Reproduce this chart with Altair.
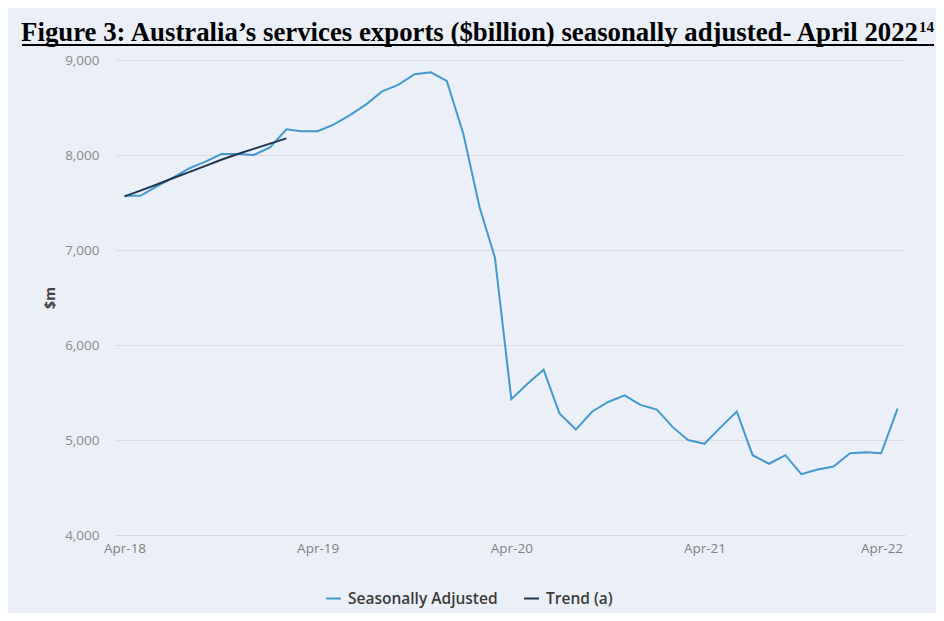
import altair as alt
import pandas as pd

# ---- data ($m) ----
months = [d.strftime("%Y/%m/%d") for d in pd.date_range("2018-04-01", periods=49, freq="MS")]
seasonally_adjusted = [
    7570, 7570, 7670, 7760, 7860, 7930, 8010, 8010, 8000, 8080, 8270, 8250,
    8250, 8320, 8420, 8530, 8670, 8740, 8850, 8870, 8780, 8230, 7450, 6920,
    5430, 5590, 5740, 5280, 5110, 5300, 5400, 5470, 5370, 5320, 5130, 5000,
    4960, 5130, 5300, 4840, 4750, 4840, 4640, 4690, 4720, 4860, 4870, 4860,
    5330,
]
trend = [7565, 7625, 7690, 7755, 7820, 7885, 7950, 8010, 8065, 8120, 8175]
series_names = ["Seasonally Adjusted", "Trend (a)"]
series_colors = ["#4399cf", "#1d3651"]
y_ticks = [4000, 5000, 6000, 7000, 8000, 9000]
title_text = "Figure 3: Australia\u2019s services exports ($billion) seasonally adjusted- April 2022"
title_sup = "14"

sa_df = pd.DataFrame({"date": months, "value": seasonally_adjusted, "series": series_names[0]})
tr_df = pd.DataFrame({"date": months[:len(trend)], "value": trend, "series": series_names[1]})

FONT = "Open Sans"
BG = "#ebeff7"

x_enc = alt.X(
    "date:T",
    scale=alt.Scale(domain=[alt.DateTime(year=2018, month=3, date=14),
                            alt.DateTime(year=2022, month=4, date=15)]),
    axis=alt.Axis(
        title=None,
        values=[alt.DateTime(year=y, month=4, date=1) for y in range(2018, 2023)],
        format="%b-%y",
        grid=False,
        ticks=False,
        domain=True,
        domainColor="#d3d7df",
        labelFont=FONT,
        labelFontSize=13.5,
        labelColor="#7f7f7f",
        labelPadding=6,
        labelFlush=8.5,
        labelFlushOffset=5,
    ),
)
y_enc = alt.Y(
    "value:Q",
    scale=alt.Scale(domain=[4000, 9000], nice=False, zero=False),
    axis=alt.Axis(
        title="$m",
        values=y_ticks,
        format=",d",
        grid=True,
        gridColor="#d9dce3",
        domain=False,
        ticks=False,
        labelFont=FONT,
        labelFontSize=13.5,
        labelColor="#8a8a8a",
        labelPadding=16,
        titleFont=FONT,
        titleFontSize=14,
        titleFontWeight="bold",
        titleColor="#444444",
        titlePadding=7,
    ),
)
color_enc = alt.Color(
    "series:N",
    scale=alt.Scale(domain=series_names, range=series_colors),
    legend=alt.Legend(
        title=None,
        orient="none",
        direction="horizontal",
        legendX=210,
        legendY=530,
        symbolType="stroke",
        symbolSize=225,
        symbolStrokeWidth=2,
        labelFont=FONT,
        labelFontSize=15.5,
        labelFontWeight=600,
        labelColor="#3a3a3a",
        labelOffset=6,
        columnPadding=22,
    ),
)

sa_line = alt.Chart(sa_df).mark_line(strokeWidth=2).encode(x=x_enc, y=y_enc, color=color_enc)
tr_line = alt.Chart(tr_df).mark_line(strokeWidth=2).encode(x=x_enc, y=y_enc, color=color_enc)

one = pd.DataFrame({"t": [title_text], "s": [title_sup]})
title_mark = alt.Chart(one).mark_text(
    font="Liberation Serif", fontSize=26.8, fontWeight="bold", color="#000000",
    align="right", baseline="alphabetic",
).encode(text="t:N", x=alt.value(803), y=alt.value(-19))
sup_mark = alt.Chart(one).mark_text(
    font="Liberation Serif", fontSize=15, fontWeight="bold", color="#000000",
    align="left", baseline="alphabetic",
).encode(text="s:N", x=alt.value(804), y=alt.value(-28))
underline = alt.Chart(one).mark_rule(color="#000000", strokeWidth=2).encode(
    x=alt.value(-93), x2=alt.value(819), y=alt.value(-15)
)

chart = (
    alt.layer(sa_line, tr_line, title_mark, sup_mark, underline)
    .properties(
        width=790,
        height=475,
        background=BG,
        padding={"left": 107, "top": 52, "right": 31, "bottom": 78},
        autosize=alt.AutoSizeParams(type="none"),
    )
    .configure_view(stroke=None)
)

chart.save("out.html", embed_options={"renderer": "svg", "actions": False})
